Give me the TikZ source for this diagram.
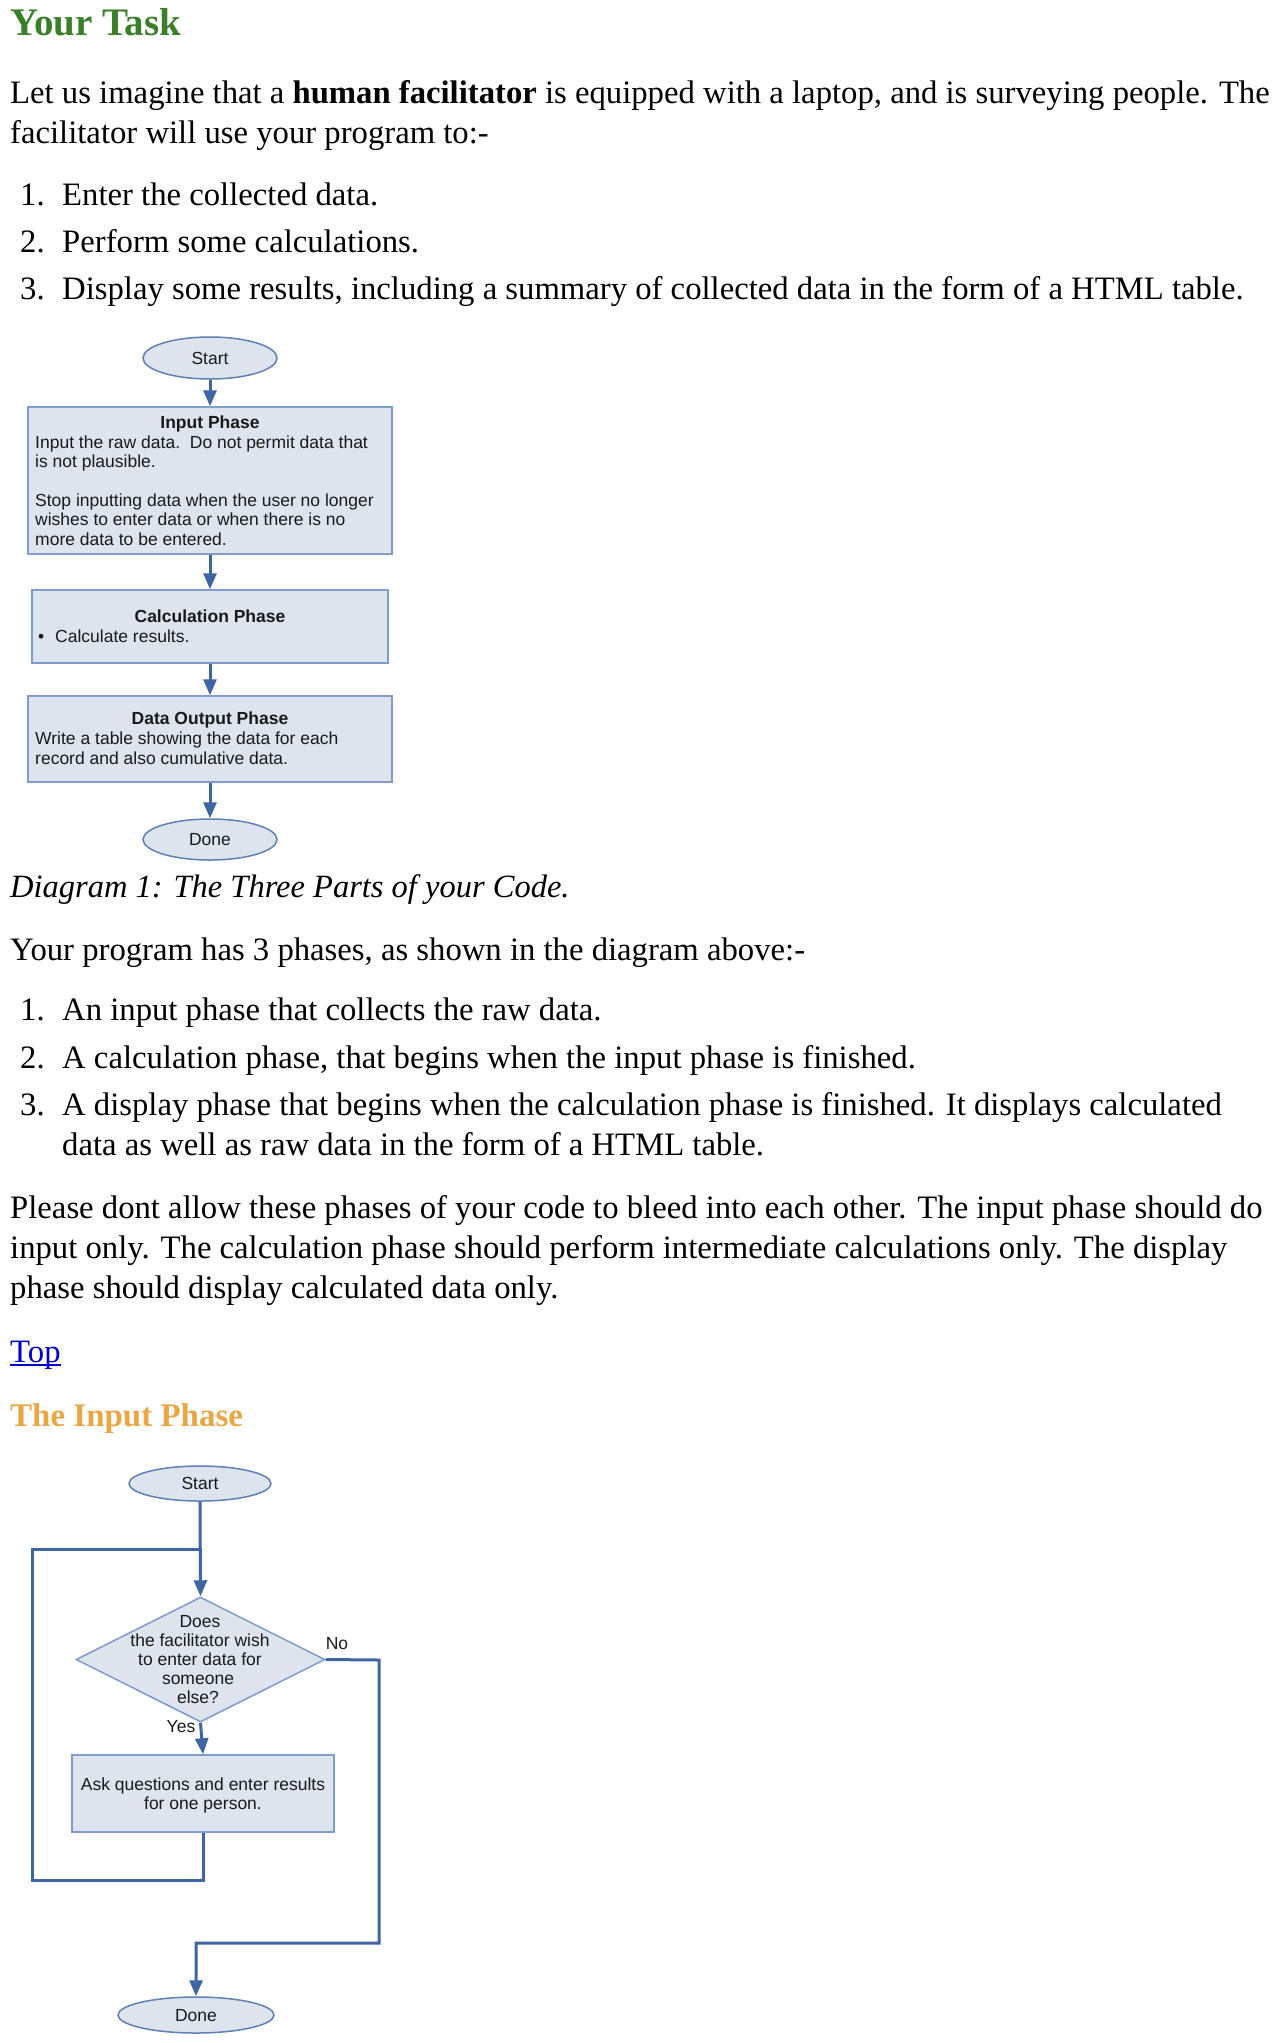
\documentclass[tikz,border=0pt]{standalone}
\usepackage{fontspec}
\setmainfont{Liberation Serif}
\newfontfamily\flowsans{Liberation Sans}
\usetikzlibrary{shapes.geometric,arrows.meta}
\definecolor{titlegreen}{HTML}{3B7F2B}
\definecolor{headorange}{HTML}{E9A645}
\definecolor{linkblue}{HTML}{0000CC}
\definecolor{flowline}{HTML}{3F65A3}
\definecolor{boxfill}{HTML}{DDE4EE}
\definecolor{boxdraw}{HTML}{7F9CCB}
\definecolor{ellipsedraw}{HTML}{5F80B5}
\definecolor{flowtext}{HTML}{1A1A1A}
\tikzset{
  body/.style={anchor=base west, inner sep=0pt, font=\fontsize{32.7}{38}\selectfont},
  ftext/.style={inner sep=0pt, text=flowtext, font=\flowsans\fontsize{17.5}{19.5}\selectfont},
  ftextl/.style={ftext, anchor=base west},
  ftextc/.style={ftext, anchor=base},
  fhead/.style={ftextc, font=\flowsans\bfseries\fontsize{17.5}{19.5}\selectfont},
  fbox/.style={draw=boxdraw, fill=boxfill, line width=1.5pt, rectangle, inner sep=0pt},
  term/.style={draw=ellipsedraw, fill=boxfill, line width=1.5pt, ellipse, inner sep=0pt},
  dec/.style={draw=boxdraw, fill=boxfill, line width=1.5pt, diamond, inner sep=0pt},
  conn/.style={draw=flowline, line width=3pt, -{Triangle[width=13pt,length=16pt]}},
  plainconn/.style={draw=flowline, line width=3pt},
}
\begin{document}
\begin{tikzpicture}[x=1pt,y=-1pt]
\useasboundingbox (0,0) rectangle (1283,2043);
\fill[white] (0,0) rectangle (1283,2043);

% ---------- top text ----------
\node[anchor=base west, inner sep=0pt, text=titlegreen, font=\bfseries\fontsize{39}{44}\selectfont] (title) at (10,35) {Your Task};
\node[body] (p1a) at (10,103) {Let us imagine that a \textbf{human facilitator} is equipped with a laptop, and is surveying people. The};
\node[body] (p1b) at (10,143) {facilitator will use your program to:-};
\node[body] (n1) at (20,205) {1.};
\node[body] (l1) at (62,205) {Enter the collected data.};
\node[body] (n2) at (20,252) {2.};
\node[body] (l2) at (62,252) {Perform some calculations.};
\node[body] (n3) at (20,299) {3.};
\node[body] (l3) at (62,299) {Display some results, including a summary of collected data in the form of a HTML table.};

% ---------- diagram 1 ----------
\node[term, minimum width=134pt, minimum height=42pt] (s1) at (210,358) {};
\node[ftextc] (s1t) at (210,364) {Start};
\node[fbox, minimum width=364pt, minimum height=147pt] (b1) at (210,480.5) {};
\node[fhead] (b1h) at (210,428) {Input Phase};
\node[ftextl] (b1a) at (35,448) {Input the raw data.\ \ Do not permit data that};
\node[ftextl] (b1b) at (35,467) {is not plausible.};
\node[ftextl] (b1c) at (35,506) {Stop inputting data when the user no longer};
\node[ftextl] (b1d) at (35,525) {wishes to enter data or when there is no};
\node[ftextl] (b1e) at (35,545) {more data to be entered.};

\node[fbox, minimum width=356pt, minimum height=73pt] (b2) at (210,626.5) {};
\node[fhead] (b2h) at (210,622) {Calculation Phase};
\node[ftextl] (b2bul) at (38,642) {\textbullet};
\node[ftextl] (b2a) at (55,642) {Calculate results.};

\node[fbox, minimum width=364pt, minimum height=86pt] (b3) at (210,739) {};
\node[fhead] (b3h) at (210,724) {Data Output Phase};
\node[ftextl] (b3a) at (35,744) {Write a table showing the data for each};
\node[ftextl] (b3b) at (35,764) {record and also cumulative data.};

\node[term, minimum width=134pt, minimum height=41pt] (d1) at (210,839.5) {};
\node[ftextc] (d1t) at (210,845) {Done};

\draw[conn] (s1.south) -- (b1.north);
\draw[conn] (b1.south) -- (b2.north);
\draw[conn] (b2.south) -- (b3.north);
\draw[conn] (b3.south) -- (d1.north);

% ---------- middle text ----------
\node[body, font=\itshape\fontsize{32.5}{38}\selectfont] (cap) at (10,897) {Diagram 1: The Three Parts of your Code.};
\node[body] (p2) at (10,960) {Your program has 3 phases, as shown in the diagram above:-};
\node[body] (m1) at (20,1020) {1.};
\node[body] (k1) at (62,1020) {An input phase that collects the raw data.};
\node[body] (m2) at (20,1068) {2.};
\node[body] (k2) at (62,1068) {A calculation phase, that begins when the input phase is finished.};
\node[body] (m3) at (20,1115) {3.};
\node[body] (k3) at (62,1115) {A display phase that begins when the calculation phase is finished. It displays calculated};
\node[body] (k3b) at (62,1155) {data as well as raw data in the form of a HTML table.};
\node[body] (p3a) at (10,1218) {Please dont allow these phases of your code to bleed into each other. The input phase should do};
\node[body] (p3b) at (10,1258) {input only. The calculation phase should perform intermediate calculations only. The display};
\node[body] (p3c) at (10,1298) {phase should display calculated data only.};
\node[body, text=linkblue] (top) at (10,1362) {Top};
\draw[linkblue, line width=1.5pt] ([yshift=-3pt]top.base west) -- ([yshift=-3pt]top.base east);
\node[anchor=base west, inner sep=0pt, text=headorange, font=\bfseries\fontsize{33}{38}\selectfont] (h2) at (10,1426) {The Input Phase};

% ---------- diagram 2 ----------
\node[term, minimum width=142pt, minimum height=35pt] (s2) at (200,1483.5) {};
\node[ftextc] (s2t) at (200,1489) {Start};
\coordinate (join) at (200,1549);
\node[dec, minimum width=249pt, minimum height=125pt] (q) at (200.5,1659.5) {};
\node[ftextc] (q1) at (200,1627) {Does};
\node[ftextc] (q2) at (200,1646) {the facilitator wish};
\node[ftextc] (q3) at (200,1665) {to enter data for};
\node[ftextc] (q4) at (198,1684) {someone};
\node[ftextc] (q5) at (198,1703) {else?};
\node[ftextc] (no) at (337,1649) {No};
\node[ftextc] (yes) at (181,1732) {Yes};

\node[fbox, minimum width=262pt, minimum height=77pt] (ask) at (203,1793.5) {};
\node[ftextc] (ask1) at (203,1790) {Ask questions and enter results};
\node[ftextc] (ask2) at (203,1809) {for one person.};

\node[term, minimum width=156pt, minimum height=36pt] (d2) at (196,2015) {};
\node[ftextc] (d2t) at (196,2021) {Done};

\coordinate (loopa) at (203,1880);
\coordinate (loopb) at (32,1880);
\coordinate (loopc) at (32,1549);
\coordinate (noa) at (379,1660);
\coordinate (nob) at (379,1943);
\coordinate (noc) at (196,1943);

\draw[conn] (s2.south) -- (q.north);
\draw[conn] (q.south) -- (ask.north);
\draw[plainconn, line join=miter] (ask.south) -- (loopa) -- (loopb) -- (loopc) -- (join);
\draw[conn, line join=miter] (q.east) -- (noa) -- (nob) -- (noc) -- (d2.north);
\end{tikzpicture}
\end{document}
